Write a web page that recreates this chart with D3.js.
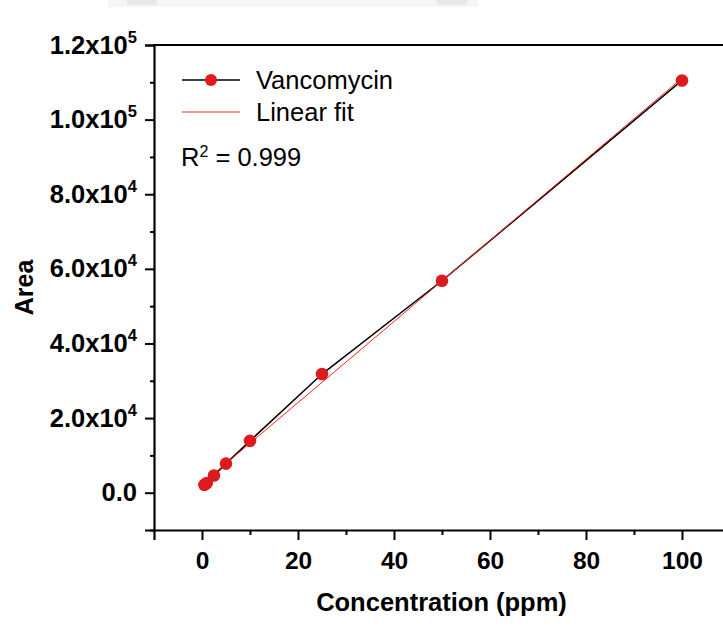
<!DOCTYPE html>
<html>
<head>
<meta charset="utf-8">
<script src="https://cdn.jsdelivr.net/npm/d3@7"></script>
<style>
  html, body { margin: 0; padding: 0; background: #ffffff; }
  svg { display: block; font-family: "Liberation Sans", Arial, sans-serif; }
</style>
</head>
<body>
<svg id="chart" width="723" height="634"></svg>
<script>
// ---- data ----
const concentrations = [0.5, 1, 2.5, 5, 10, 25, 50, 100];
const areas = [2100, 2600, 4600, 7800, 13900, 31800, 56800, 110500];
const seriesName = "Vancomycin";
const fitName = "Linear fit";
const xMajorTicks = [0, 20, 40, 60, 80, 100];
const xMinorTicks = [10, 30, 50, 70, 90];
const yMajorTicks = [0, 20000, 40000, 60000, 80000, 100000, 120000];
const yMinorTicks = [-10000, 10000, 30000, 50000, 70000, 90000, 110000];
const yTickLabels = ["0.0", "2.0x10|4", "4.0x10|4", "6.0x10|4", "8.0x10|4", "1.0x10|5", "1.2x10|5"];
const rSquared = "0.999";

// ---- layout ----
const svg = d3.select("#chart");
const mLeft = 154, mRight = 730, mTop = 45, mBottom = 530;
const x = d3.scaleLinear().domain([-10, 110]).range([mLeft, mRight]);
const y = d3.scaleLinear().domain([-10000, 120000]).range([mBottom, mTop]);

const red = "#dc1c1c";

// faint artifact band at top
svg.append("rect").attr("x", 108).attr("y", 0).attr("width", 370).attr("height", 7).attr("fill", "#f5f5f5");
svg.append("rect").attr("x", 127).attr("y", 0).attr("width", 30).attr("height", 5).attr("fill", "#e8e8e8");
svg.append("rect").attr("x", 437).attr("y", 0).attr("width", 30).attr("height", 5).attr("fill", "#e8e8e8");

// linear fit (least squares from the data)
const n = concentrations.length;
const mx = d3.mean(concentrations), my = d3.mean(areas);
let sxy = 0, sxx = 0;
for (let i = 0; i < n; i++) { sxy += (concentrations[i] - mx) * (areas[i] - my); sxx += (concentrations[i] - mx) ** 2; }
const slope = sxy / sxx, intercept = my - slope * mx;
const fitX = [d3.min(concentrations), d3.max(concentrations)];

const g = svg.append("g");

// data line
g.append("path")
  .datum(concentrations.map((c, i) => [c, areas[i]]))
  .attr("fill", "none").attr("stroke", "#000").attr("stroke-width", 1.5)
  .attr("d", d3.line().x(d => x(d[0])).y(d => y(d[1])));

// fit line
g.append("path")
  .datum(fitX.map(c => [c, intercept + slope * c]))
  .attr("fill", "none").attr("stroke", "#ff2020").attr("stroke-width", 1)
  .attr("d", d3.line().x(d => x(d[0])).y(d => y(d[1])));

// markers
g.selectAll("circle.pt").data(concentrations).join("circle")
  .attr("class", "pt")
  .attr("cx", d => x(d)).attr("cy", (d, i) => y(areas[i]))
  .attr("r", 6.3).attr("fill", red);

// ---- axes ----
const xAxis = svg.append("g").attr("transform", `translate(0,${mBottom})`)
  .call(d3.axisBottom(x).tickValues(xMajorTicks).tickSize(10).tickPadding(6).tickFormat(d3.format("d")));
svg.append("g").attr("transform", `translate(0,${mBottom})`)
  .call(d3.axisBottom(x).tickValues(xMinorTicks).tickSize(5).tickFormat(""))
  .call(a => a.select(".domain").remove());

const yAxis = svg.append("g").attr("transform", `translate(${mLeft},0)`)
  .call(d3.axisLeft(y).tickValues(yMajorTicks).tickSize(9).tickPadding(8).tickFormat(""));
svg.append("g").attr("transform", `translate(${mLeft},0)`)
  .call(d3.axisLeft(y).tickValues(yMinorTicks).tickSize(4).tickFormat(""))
  .call(a => a.select(".domain").remove());

svg.selectAll(".domain").attr("stroke", "#000").attr("stroke-width", 2.2);
svg.selectAll(".tick line").attr("stroke", "#000").attr("stroke-width", 2);

xAxis.selectAll(".tick text")
  .attr("font-family", "'Liberation Sans', Arial, sans-serif")
  .attr("font-size", 24.5).attr("font-weight", "bold").attr("fill", "#000")
  .attr("dy", "0.95em");

// y tick labels with superscripts
yAxis.selectAll(".tick").each(function(d, i) {
  const t = d3.select(this).select("text");
  t.text(null)
    .attr("font-family", "'Liberation Sans', Arial, sans-serif")
    .attr("font-weight", "bold").attr("fill", "#000")
    .attr("x", -17).attr("dy", null).attr("y", 8)
    .attr("text-anchor", "end");
  const parts = yTickLabels[yMajorTicks.indexOf(d)].split("|");
  t.append("tspan").attr("font-size", 25.5).text(parts[0]);
  if (parts[1]) t.append("tspan").attr("font-size", 16.5).attr("dy", -11).text(parts[1]);
});

// top frame line
svg.append("line").attr("x1", mLeft - 1).attr("x2", 723).attr("y1", mTop).attr("y2", mTop)
  .attr("stroke", "#000").attr("stroke-width", 2.2);

// ---- titles ----
svg.append("text").attr("x", 441.5).attr("y", 611)
  .attr("text-anchor", "middle").attr("font-size", 25.5).attr("font-weight", "bold")
  .text("Concentration (ppm)");
svg.append("text").attr("transform", "translate(33,287.5) rotate(-90)")
  .attr("text-anchor", "middle").attr("font-size", 25).attr("font-weight", "bold")
  .text("Area");

// ---- legend ----
const leg = svg.append("g");
leg.append("line").attr("x1", 182).attr("x2", 240).attr("y1", 80).attr("y2", 80)
  .attr("stroke", "#000").attr("stroke-width", 1.5);
leg.append("circle").attr("cx", 211).attr("cy", 80).attr("r", 6).attr("fill", red);
leg.append("text").attr("x", 256).attr("y", 89).attr("font-size", 25.5).text(seriesName);
leg.append("line").attr("x1", 182).attr("x2", 240).attr("y1", 112).attr("y2", 112)
  .attr("stroke", "#ff2020").attr("stroke-width", 1);
leg.append("text").attr("x", 256).attr("y", 121).attr("font-size", 25.5).text(fitName);

const r2 = svg.append("text").attr("x", 181).attr("y", 166).attr("font-size", 25.5);
r2.append("tspan").text("R");
r2.append("tspan").attr("font-size", 16).attr("dy", -9).text("2");
r2.append("tspan").attr("dy", 9).text(" = " + rSquared);
</script>
</body>
</html>
